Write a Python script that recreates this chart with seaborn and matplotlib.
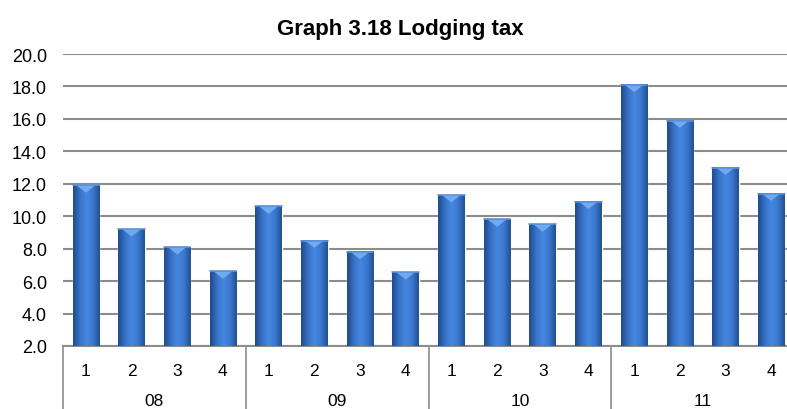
import numpy as np
import pandas as pd
import matplotlib
matplotlib.use('Agg')
import matplotlib.pyplot as plt
import matplotlib.transforms as mtransforms
from matplotlib.colors import LinearSegmentedColormap
import seaborn as sns

# Datos
years = ['08', '09', '10', '11']
quarters = ['1', '2', '3', '4']
values = [11.9, 9.2, 8.1, 6.6,
          10.6, 8.5, 7.8, 6.55,
          11.3, 9.8, 9.5, 10.9,
          18.1, 15.9, 13.0, 11.4]

df = pd.DataFrame({
    'period': [f'{y}-{q}' for y in years for q in quarters],
    'quarter': [q for y in years for q in quarters],
    'value': values,
})

sns.set_theme(style='white')
plt.rcParams['font.family'] = ['Liberation Sans', 'DejaVu Sans']
plt.rcParams['text.color'] = 'black'
plt.rcParams['xtick.color'] = 'black'
plt.rcParams['ytick.color'] = 'black'

fig = plt.figure(figsize=(7.87, 4.10), dpi=100)
ax = fig.add_axes([63 / 787, 63 / 410, 731 / 787, 292 / 410])

sns.barplot(data=df, x='period', y='value', color='#3a72c4', width=0.58,
            saturation=1, ax=ax, zorder=2)

ax.set_ylim(2, 20)
ax.set_xlim(-0.5, len(values) - 0.5)
ax.set_yticks(np.arange(2, 20.1, 2))
ax.set_yticklabels([f'{v:.1f}' for v in np.arange(2, 20.1, 2)], fontsize=13, color='black')
ax.yaxis.grid(True, color='#8c8c8c', linewidth=1.5, zorder=0)
ax.set_axisbelow(True)
for s in ['left', 'right', 'top']:
    ax.spines[s].set_visible(False)
ax.spines['bottom'].set_color('#8c8c8c')
ax.spines['bottom'].set_linewidth(1.5)
ax.tick_params(axis='y', length=0, pad=11.5)
ax.tick_params(axis='x', length=0, pad=12)
ax.set_xticks(range(len(values)))
ax.set_xticklabels(df['quarter'], fontsize=12.5, color='black')
ax.set_xlabel('')
ax.set_ylabel('')

# degradado de las barras
cmap = LinearSegmentedColormap.from_list('bev', ['#1f4b8a', '#3671c6', '#4687df', '#3b78cf', '#23508f'])
grad = np.linspace(0, 1, 64).reshape(1, -1)
for p in list(ax.patches):
    x0, w, h = p.get_x(), p.get_width(), p.get_height()
    ax.imshow(grad, extent=[x0, x0 + w, 2, h], aspect='auto', cmap=cmap, zorder=3,
              interpolation='bicubic')
    tri = np.array([[x0 + w * 0.15, h], [x0 + w * 0.85, h], [x0 + w * 0.5, h - 0.45]])
    ax.fill(tri[:, 0], tri[:, 1], color='#72aaee', zorder=4, lw=0)
    ax.plot([x0, x0 + w], [h, h], color='#5b92dc', lw=1.2, zorder=4)
ax.set_ylim(2, 20)
ax.set_xlim(-0.5, len(values) - 0.5)

# eje de categorías de dos niveles
trans = mtransforms.blended_transform_factory(ax.transData, ax.transAxes)
for i in range(len(years) + 1):
    xs = i * len(quarters) - 0.5
    ax.plot([xs, xs], [0, -0.25], color='#8c8c8c', lw=1.2, transform=trans, clip_on=False)
for i, y in enumerate(years):
    ax.text(i * len(quarters) + 1.5, -0.188, y, transform=trans, ha='center', va='center',
            fontsize=12.5, color='black')

fig.suptitle('Graph 3.18 Lodging tax', x=400 / 787, y=1 - 29 / 410, va='center',
             fontsize=16, fontweight='bold', color='black')

fig.savefig('out.png', dpi=100)
